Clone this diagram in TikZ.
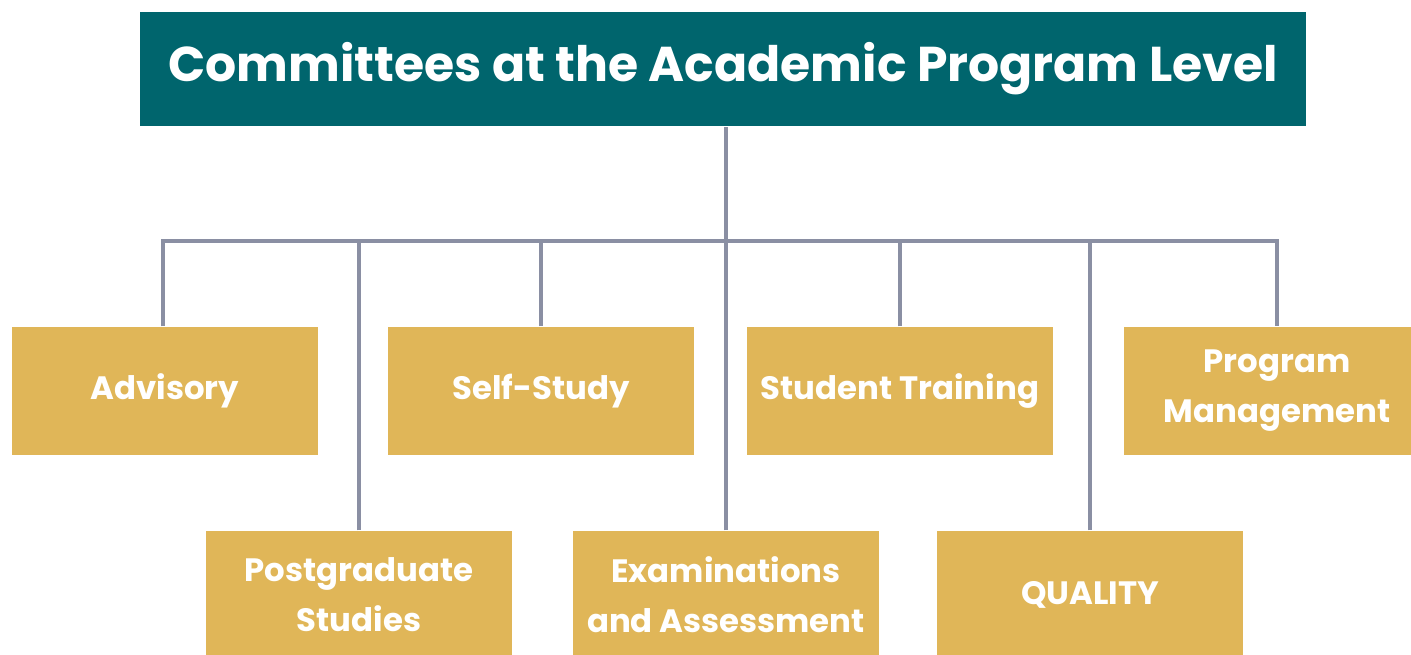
\documentclass[tikz,border=0pt]{standalone}
\usepackage{fontspec}
\setmainfont{Poppins}
\usepackage{xcolor}
\definecolor{teal}{HTML}{00656D}
\definecolor{gold}{HTML}{E0B658}
\definecolor{wire}{HTML}{8A8FA3}

\begin{document}
\begin{tikzpicture}[x=0.01cm,y=-0.01cm,
    head/.style={fill=teal, text=white, font=\bfseries\fontsize{13.9}{17}\selectfont, minimum width=11.66cm, minimum height=1.14cm, inner sep=0pt},
    unit/.style={fill=gold, text=white, font=\bfseries\fontsize{9.2}{14.2}\selectfont, align=center, minimum width=3.06cm, minimum height=1.28cm, inner sep=0pt},
    link/.style={draw=wire, line width=1pt}]
        \useasboundingbox (0,0) rectangle (1411,654);
        \clip (0,0) rectangle (1411,654);

        \node[head] (title) at (723,69) {Committees at the Academic Program Level};

        \node[unit] (adv) at (165,391) {Advisory};
        \node[unit] (self) at (541,391) {Self-Study};
        \node[unit] (train) at (900,391) {Student Training};
        \node[unit] (prog) at (1277,391) {Program\\Management};

        \node[unit] (post) at (359,595) {Postgraduate\\Studies};
        \node[unit] (exam) at (726,595) {Examinations\\and Assessment};
        \node[unit] (qual) at (1090,595) {QUALITY};

        \coordinate (bar) at (0,241);

        \draw[link] (adv.north -| 163,0) |- (bar -| prog.north) -- (prog.north);
        \draw[link] (exam.north) -- (exam.north |- title.south);
        \draw[link] (self.north) -- (self.north |- bar);
        \draw[link] (train.north) -- (train.north |- bar);
        \draw[link] (post.north) -- (post.north |- bar);
        \draw[link] (qual.north) -- (qual.north |- bar);

    \end{tikzpicture}
\end{document}
